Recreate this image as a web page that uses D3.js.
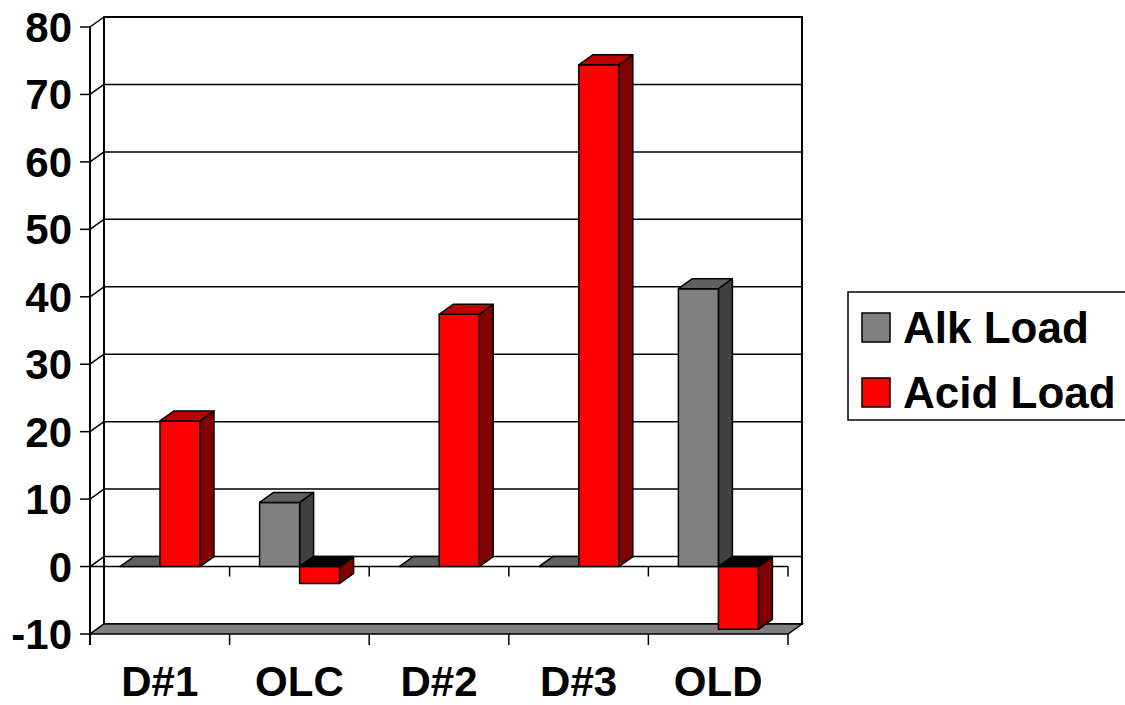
<!DOCTYPE html>
<html>
<head>
<meta charset="utf-8">
<script src="https://cdn.jsdelivr.net/npm/d3@7"></script>
<style>
  html, body { margin: 0; padding: 0; background: #fff; }
  svg { display: block; }
  text { font-family: "Liberation Sans", Arial, sans-serif; font-weight: bold; fill: #000; }
</style>
</head>
<body>
<svg id="chart" width="1125" height="705"></svg>
<script>
// Alkalinity vs acidity load per site
const categories = ["D#1", "OLC", "D#2", "D#3", "OLD"];
const alkLoad = [0, 9.5, 0, 0, 41.2];
const acidLoad = [21.6, -2.5, 37.4, 74.4, -9.3];
const seriesNames = ["Alk Load", "Acid Load"];
const yTicks = [-10, 0, 10, 20, 30, 40, 50, 60, 70, 80];

const svg = d3.select("#chart");

// 3-D projection: depth offset of the back wall
const DX = 14, DY = -10;

const y = d3.scaleLinear().domain([-10, 80]).range([634, 27]);
const x = d3.scaleBand().domain(categories).range([90, 788]).paddingInner(0).paddingOuter(0);
const inner = d3.scaleBand().domain(seriesNames).range([30, 110]);

const palette = {
  "Alk Load":  { front: "#808080", top: "#606060", side: "#404040" },
  "Acid Load": { front: "#ff0000", top: "#c00000", side: "#800000" }
};

const x0 = 90, x1 = 788;
const g = svg.append("g");

// Back wall
g.append("rect")
  .attr("x", x0 + DX).attr("y", y(80) + DY)
  .attr("width", x1 - x0).attr("height", y(-10) - y(80))
  .attr("fill", "#fff").attr("stroke", "#000").attr("stroke-width", 2);

// Gridlines on the back wall and the left side wall
yTicks.forEach(t => {
  g.append("line")
    .attr("x1", x0 + DX).attr("x2", x1 + DX)
    .attr("y1", y(t) + DY).attr("y2", y(t) + DY)
    .attr("stroke", "#000").attr("stroke-width", 1.5);
  g.append("line")
    .attr("x1", x0).attr("x2", x0 + DX)
    .attr("y1", y(t)).attr("y2", y(t) + DY)
    .attr("stroke", "#000").attr("stroke-width", 1.5);
});

// Floor at the axis minimum
const poly = pts => pts.map(p => p.join(",")).join(" ");
g.append("polygon")
  .attr("points", poly([[x0, y(-10)], [x1, y(-10)], [x1 + DX, y(-10) + DY], [x0 + DX, y(-10) + DY]]))
  .attr("fill", "#808080").attr("stroke", "#000").attr("stroke-width", 1.5);

// Category axis at zero with tick marks
g.append("line")
  .attr("x1", x0).attr("x2", x1).attr("y1", y(0)).attr("y2", y(0))
  .attr("stroke", "#000").attr("stroke-width", 1.5);
const boundaries = categories.map(c => x(c)).concat([x1]);
boundaries.forEach((bx, i) => {
  if (i > 0) {
    g.append("line").attr("x1", bx).attr("x2", bx)
      .attr("y1", y(0)).attr("y2", y(0) + 10)
      .attr("stroke", "#000").attr("stroke-width", 1.5);
  }
  g.append("line").attr("x1", bx).attr("x2", bx)
    .attr("y1", y(-10)).attr("y2", y(-10) + 11)
    .attr("stroke", "#000").attr("stroke-width", 1.5);
});

// Bars
const bars = g.append("g");
categories.forEach((c, i) => {
  [["Alk Load", alkLoad[i]], ["Acid Load", acidLoad[i]]].forEach(([s, v]) => {
    const col = palette[s];
    const bx0 = x(c) + inner(s);
    const bx1 = bx0 + inner.bandwidth();
    const yv = y(v), y0 = y(0);
    const top = Math.min(yv, y0), bot = Math.max(yv, y0);
    const bg = bars.append("g").attr("stroke", "#000").attr("stroke-width", 1.5).attr("stroke-linejoin", "round");
    // side face and front face
    if (bot > top) {
      bg.append("polygon")
        .attr("points", poly([[bx1, top], [bx1 + DX, top + DY], [bx1 + DX, bot + DY], [bx1, bot]]))
        .attr("fill", col.side);
      bg.append("rect")
        .attr("x", bx0).attr("y", top).attr("width", bx1 - bx0).attr("height", bot - top)
        .attr("fill", col.front);
    }
    // top face (at zero for negative values)
    bg.append("polygon")
      .attr("points", poly([[bx0, top], [bx1, top], [bx1 + DX, top + DY], [bx0 + DX, top + DY]]))
      .attr("fill", v < 0 ? "#000" : col.top);
  });
});

// Value axis: front line, ticks and labels
g.append("line")
  .attr("x1", x0).attr("x2", x0).attr("y1", y(80)).attr("y2", y(-10) + 11)
  .attr("stroke", "#000").attr("stroke-width", 2);
yTicks.forEach(t => {
  g.append("line")
    .attr("x1", x0 - 10).attr("x2", x0).attr("y1", y(t)).attr("y2", y(t))
    .attr("stroke", "#000").attr("stroke-width", 1.5);
  g.append("text")
    .attr("x", 72).attr("y", y(t) + 15)
    .attr("text-anchor", "end").attr("font-size", 42)
    .text(t);
});

// Category labels
categories.forEach(c => {
  g.append("text")
    .attr("x", x(c) + x.bandwidth() / 2).attr("y", 696)
    .attr("text-anchor", "middle").attr("font-size", 42)
    .text(c);
});

// Legend
const lg = svg.append("g");
lg.append("rect")
  .attr("x", 848).attr("y", 292).attr("width", 290).attr("height", 128)
  .attr("fill", "#fff").attr("stroke", "#000").attr("stroke-width", 1.5);
seriesNames.forEach((s, i) => {
  const yy = 313 + i * 65;
  lg.append("rect")
    .attr("x", 862).attr("y", yy).attr("width", 28).attr("height", 29)
    .attr("fill", palette[s].front).attr("stroke", "#000").attr("stroke-width", 1.5);
  lg.append("text")
    .attr("x", 903).attr("y", yy + 30)
    .attr("font-size", 44)
    .text(s);
});
</script>
</body>
</html>
